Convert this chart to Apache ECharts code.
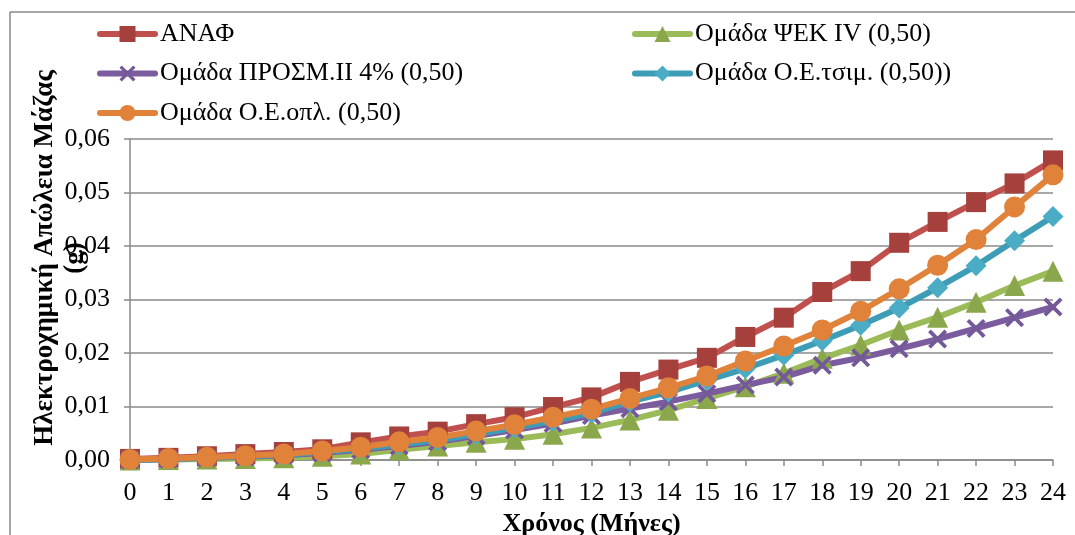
<!DOCTYPE html>
<html>
<head>
<meta charset="utf-8">
<script src="https://cdn.jsdelivr.net/npm/echarts@6/dist/echarts.min.js"></script>
<style>html,body{margin:0;padding:0;background:#fff}#c{width:1075px;height:535px}</style>
</head>
<body>
<div id="c"></div>
<script>
const months = ['0','1','2','3','4','5','6','7','8','9','10','11','12','13','14','15','16','17','18','19','20','21','22','23','24'];
const yTicks = [0, 0.01, 0.02, 0.03, 0.04, 0.05, 0.06];
const seriesNames = ['ΑΝΑΦ', 'Ομάδα ΨΕΚ IV (0,50)', 'Ομάδα ΠΡΟΣΜ.ΙΙ 4% (0,50)', 'Ομάδα Ο.Ε.τσιμ. (0,50))', 'Ομάδα Ο.Ε.οπλ. (0,50)'];
const yTitle = ['Ηλεκτροχημική Απώλεια Μάζας', '(g)'];
const xTitle = 'Χρόνος (Μήνες)';
const anaf   = [0.0002,0.0004,0.0007,0.0011,0.0015,0.0020,0.0033,0.0044,0.0053,0.0067,0.0080,0.0099,0.0117,0.0146,0.0169,0.0191,0.0230,0.0266,0.0314,0.0353,0.0406,0.0445,0.0482,0.0517,0.0560];
const psek   = [0.0000,0.0001,0.0002,0.0003,0.0004,0.0007,0.0011,0.0019,0.0026,0.0033,0.0039,0.0048,0.0060,0.0075,0.0093,0.0115,0.0137,0.0162,0.0190,0.0215,0.0243,0.0267,0.0295,0.0326,0.0353];
const prosm  = [0.0000,0.0002,0.0004,0.0006,0.0009,0.0013,0.0019,0.0026,0.0034,0.0045,0.0056,0.0068,0.0083,0.0096,0.0109,0.0124,0.0140,0.0155,0.0177,0.0191,0.0208,0.0226,0.0246,0.0266,0.0286];
const tsim   = [0.0000,0.0002,0.0004,0.0007,0.0010,0.0015,0.0021,0.0029,0.0037,0.0048,0.0060,0.0073,0.0088,0.0109,0.0127,0.0149,0.0171,0.0196,0.0223,0.0252,0.0284,0.0322,0.0363,0.0410,0.0455];
const opl    = [0.0001,0.0003,0.0005,0.0008,0.0011,0.0017,0.0024,0.0034,0.0042,0.0054,0.0066,0.0080,0.0095,0.0115,0.0135,0.0157,0.0185,0.0213,0.0243,0.0278,0.0320,0.0364,0.0412,0.0473,0.0533];

const FONT = '"Liberation Serif","Times New Roman",serif';
const FS = 26;
const xPath = 'path://M1.4,0 L5,3.6 L8.6,0 L10,1.4 L6.4,5 L10,8.6 L8.6,10 L5,6.4 L1.4,10 L0,8.6 L3.6,5 L0,1.4 Z';

function mk(name, data, lineColor, markColor, symbol, size) {
  return {
    name: name, type: 'line', data: data, symbol: symbol, symbolSize: size,
    showAllSymbol: true, animation: false,
    lineStyle: {color: lineColor, width: 6, cap: 'round', join: 'round'},
    itemStyle: {color: markColor},
    emphasis: {disabled: true}
  };
}

const chart = echarts.init(document.getElementById('c'), null, {renderer: 'canvas'});
const legendText = {fontFamily: FONT, fontSize: FS, color: '#000', lineHeight: 28};
const legendCommon = {orient: 'vertical', top: 15, itemWidth: 55, itemHeight: 20, itemGap: 11.5,
  textStyle: legendText, lineStyle: {width: 6, cap: 'round'}};
chart.setOption({
  animation: false,
  backgroundColor: '#fff',
  graphic: [
    {type: 'line', shape: {x1: 10, y1: 12, x2: 1075, y2: 12}, style: {stroke: '#8a8a8a', lineWidth: 1.5}},
    {type: 'line', shape: {x1: 10, y1: 12, x2: 10, y2: 535}, style: {stroke: '#8a8a8a', lineWidth: 1.5}},
    {type: 'text', x: 45, y: 258, rotation: Math.PI / 2,
     style: {text: yTitle[0], font: 'bold 27px ' + FONT, fill: '#000', align: 'center', verticalAlign: 'middle'}},
    {type: 'text', x: 75, y: 258, rotation: Math.PI / 2,
     style: {text: yTitle[1], font: 'bold 27px ' + FONT, fill: '#000', align: 'center', verticalAlign: 'middle'}}
  ],
  legend: [
    Object.assign({data: [seriesNames[0], seriesNames[2], seriesNames[4]], left: 92}, legendCommon),
    Object.assign({data: [seriesNames[1], seriesNames[3]], left: 627}, legendCommon)
  ],
  grid: {left: 130, right: 22, top: 139, bottom: 75, containLabel: false, outerBoundsMode: 'none'},
  xAxis: {
    type: 'category', data: months, boundaryGap: false,
    name: xTitle, nameLocation: 'middle', nameGap: 49,
    nameTextStyle: {fontFamily: FONT, fontSize: FS, fontWeight: 'bold', color: '#000'},
    axisLine: {lineStyle: {color: '#8a8a8a', width: 1.5}},
    axisTick: {show: true, inside: false, length: 6, alignWithLabel: true, lineStyle: {color: '#8a8a8a', width: 1.5}},
    axisLabel: {fontFamily: FONT, fontSize: FS, color: '#000', margin: 20, interval: 0},
    splitLine: {show: false}
  },
  yAxis: {
    type: 'value', min: yTicks[0], max: yTicks[yTicks.length - 1], interval: 0.01,
    axisLine: {show: true, lineStyle: {color: '#8a8a8a', width: 1.5}},
    axisTick: {show: true, inside: false, length: 6, lineStyle: {color: '#8a8a8a', width: 1.5}},
    axisLabel: {fontFamily: FONT, fontSize: FS, color: '#000', margin: 20,
      formatter: v => v.toFixed(2).replace('.', ',')},
    splitLine: {show: true, lineStyle: {color: '#8a8a8a', width: 1.5}}
  },
  series: [
    mk(seriesNames[0], anaf,  '#C0504D', '#A5403D', 'rect', 20),
    mk(seriesNames[1], psek,  '#9BBB59', '#8AA84B', 'triangle', 21),
    mk(seriesNames[2], prosm, '#7B5C9E', '#73589A', xPath, 19),
    mk(seriesNames[3], tsim,  '#3E9DB6', '#4BACC6', 'diamond', 21),
    mk(seriesNames[4], opl,   '#E0823A', '#E0823A', 'circle', 21)
  ]
});
</script>
</body>
</html>
